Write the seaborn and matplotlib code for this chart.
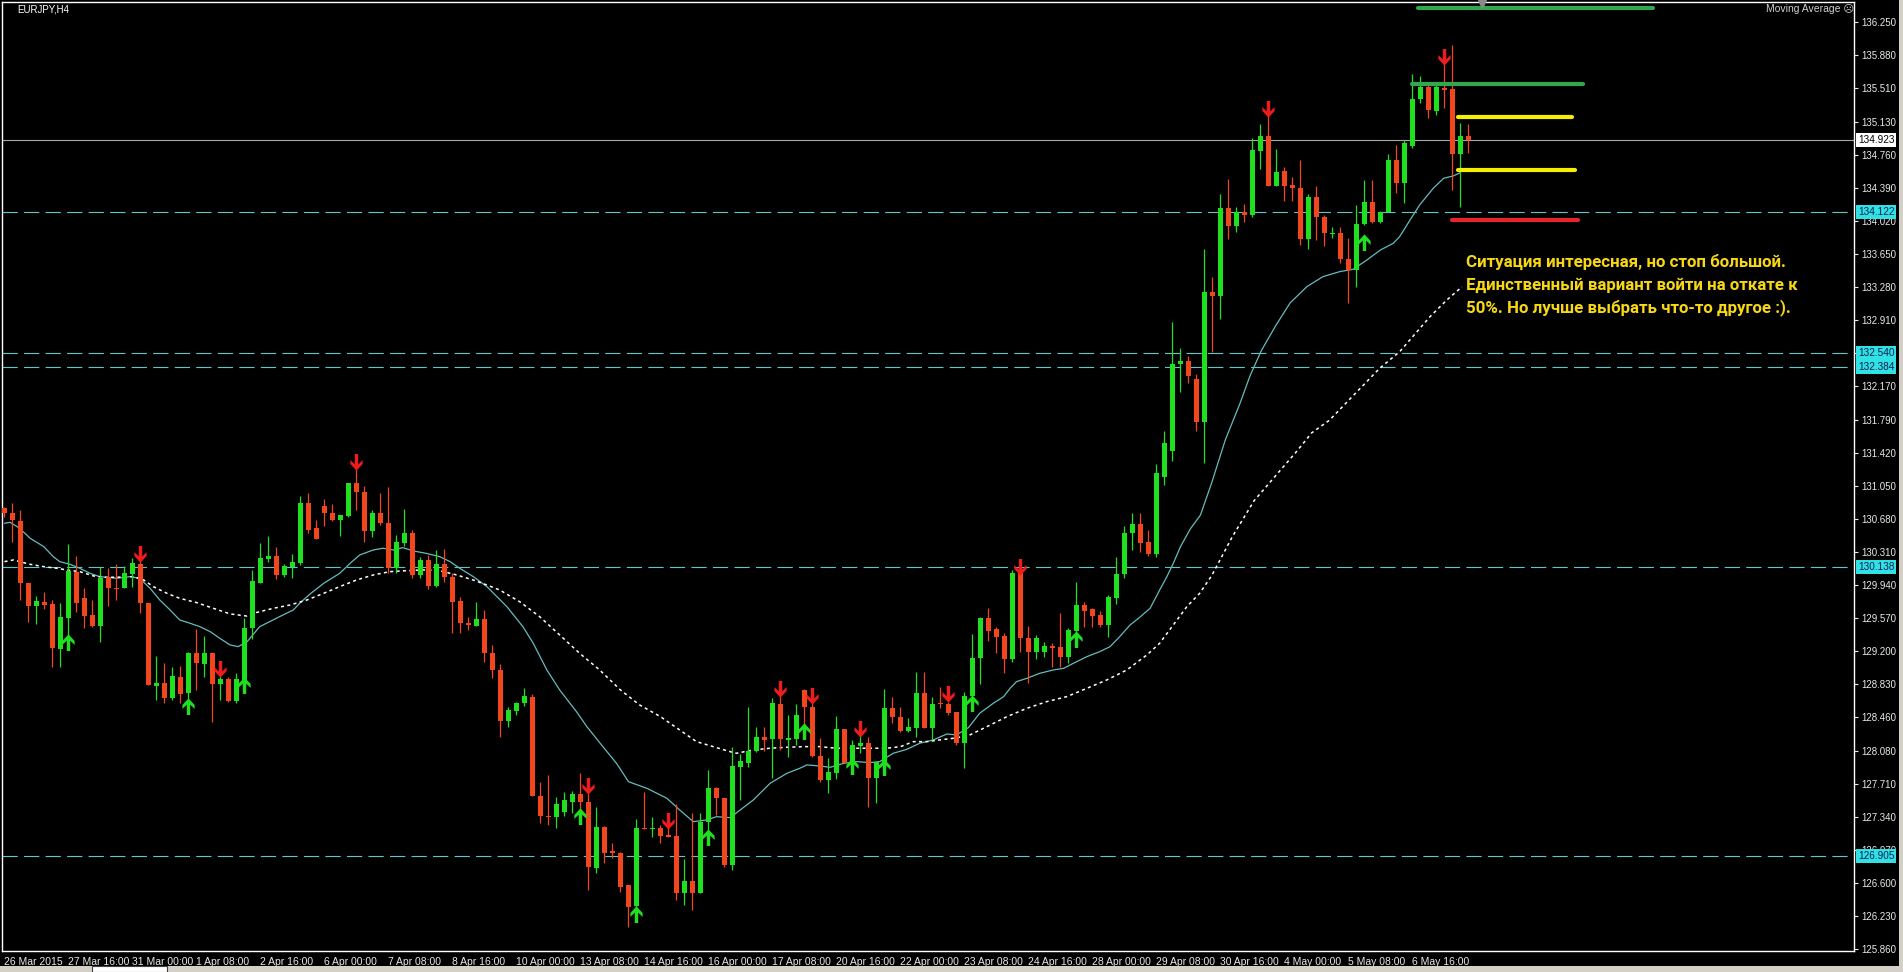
import numpy as np
import pandas as pd
import matplotlib
matplotlib.use("Agg")
import matplotlib.pyplot as plt
import seaborn as sns
from matplotlib.path import Path
from matplotlib.patches import Rectangle

# ---------------- data (EURJPY, H4) ----------------
opens = [130.798,130.750,130.656,129.957,129.707,129.744,129.726,129.221,129.573,130.088,
         129.789,129.602,129.483,130.025,129.909,129.901,130.062,130.170,129.733,128.810,
         128.836,128.668,128.904,128.724,129.173,129.053,129.173,128.825,128.885,128.642,
         128.845,129.453,129.965,130.226,130.264,130.051,130.144,130.181,130.854,130.574,
         130.824,130.742,130.667,130.712,131.086,130.985,130.548,130.749,130.637,130.133,
         130.406,130.518,130.051,130.219,129.927,130.174,130.032,129.759,129.516,129.483,
         129.553,129.180,128.985,128.417,128.529,128.611,128.679,127.573,127.352,127.341,
         127.397,127.509,127.595,127.509,126.762,127.229,126.956,126.937,126.575,126.339,
         127.210,127.199,127.210,127.135,127.124,126.489,126.620,126.489,127.285,127.659,
         127.547,126.800,127.902,127.947,128.078,128.231,128.212,128.604,128.201,128.212,
         128.761,128.575,128.025,127.752,127.835,128.321,127.939,128.134,128.171,127.771,
         127.947,128.556,128.455,128.302,128.332,128.732,128.332,128.619,128.604,128.518,
         128.164,128.694,129.116,129.565,129.442,129.367,129.105,130.088,129.341,129.191,
         129.184,129.255,129.247,129.128,129.427,129.714,129.666,129.602,129.490,129.789,
         130.062,130.520,130.620,130.420,130.290,131.149,131.435,132.420,132.445,132.245,
         131.764,133.226,133.174,134.167,133.966,134.115,134.087,134.807,134.975,134.407,
         134.575,134.427,134.387,133.814,134.287,134.068,133.874,133.889,133.590,133.470,
         133.986,134.229,134.012,134.117,134.703,134.441,134.864,135.387,135.518,135.253,
         135.507,135.496,134.770,134.972]
highs = [130.817,130.854,130.780,129.957,129.815,129.856,129.770,129.733,130.398,130.264,
         129.901,129.771,130.144,130.126,130.174,130.152,130.238,130.219,129.733,129.143,
         129.061,129.023,129.031,129.191,129.442,129.367,129.173,128.948,128.911,128.948,
         129.565,130.107,130.406,130.488,130.368,130.170,130.282,130.936,130.966,130.667,
         130.899,130.847,130.723,131.086,131.246,131.048,130.779,130.974,131.041,130.499,
         130.787,130.555,130.256,130.275,130.331,130.338,130.069,129.808,129.583,129.752,
         129.658,129.266,129.053,128.574,128.630,128.780,128.716,127.734,127.808,127.565,
         127.621,127.632,127.827,127.603,127.446,127.237,127.042,126.948,126.575,127.311,
         127.621,127.341,127.247,127.229,127.483,126.863,127.378,127.378,127.864,127.677,
         127.547,128.119,128.040,128.575,128.350,128.343,128.668,128.705,128.481,128.601,
         128.769,128.668,128.220,127.995,128.470,128.321,128.201,128.294,128.231,127.958,
         128.769,128.679,128.575,128.444,128.959,128.959,128.679,128.799,128.630,128.518,
         128.743,129.389,129.584,129.677,129.464,129.397,130.107,130.181,129.479,129.378,
         129.303,129.292,129.628,129.453,129.976,129.752,129.677,129.651,129.826,130.256,
         130.600,130.750,130.750,130.550,131.300,131.666,132.891,132.600,132.500,132.305,
         133.706,133.386,134.327,134.495,134.175,134.215,134.947,135.108,135.268,134.827,
         134.627,134.507,134.707,134.327,134.407,134.087,133.956,133.956,133.825,134.199,
         134.479,134.479,134.135,134.770,134.871,134.928,135.667,135.645,135.540,135.581,
         135.806,135.992,135.114,135.107]
lows = [130.705,130.425,129.771,129.528,129.498,129.666,129.023,129.023,129.322,129.640,
        129.453,129.472,129.304,129.703,129.771,129.901,129.913,129.621,128.818,128.650,
        128.612,128.650,128.612,128.650,128.761,128.911,128.407,128.650,128.631,128.612,
        128.800,129.329,129.965,130.200,130.002,130.032,130.021,130.163,130.518,130.450,
        130.600,130.660,130.488,130.705,130.779,130.424,130.480,130.611,130.077,130.077,
        130.376,130.013,130.013,129.890,129.920,129.976,129.396,129.404,129.434,129.479,
        129.079,128.899,128.238,128.350,128.481,128.582,127.573,127.274,127.248,127.210,
        127.349,127.378,127.416,126.519,126.713,126.818,126.874,126.500,126.108,126.332,
        127.199,127.109,127.050,127.117,126.407,126.351,126.295,126.489,127.173,127.360,
        126.780,126.744,127.528,127.902,128.070,128.078,127.771,128.089,128.014,128.145,
        128.369,128.014,127.734,127.603,127.760,127.939,127.865,128.052,127.453,127.491,
        127.902,128.388,128.294,128.294,128.238,128.332,128.201,128.556,128.481,128.145,
        127.883,128.687,128.829,129.314,129.172,128.948,129.079,129.191,128.836,129.105,
        129.135,129.023,129.023,129.068,129.266,129.471,129.464,129.464,129.359,129.726,
        130.020,130.330,130.310,130.260,130.250,131.054,131.330,132.100,132.200,131.664,
        131.304,132.545,132.925,133.814,133.894,134.007,134.067,134.599,134.407,134.407,
        134.239,134.247,133.746,133.706,133.806,133.739,133.825,133.552,133.096,133.283,
        133.975,134.001,134.001,134.117,134.329,134.217,134.834,135.339,135.170,135.208,
        135.282,134.367,134.180,134.785]
closes = [130.742,130.667,129.957,129.707,129.759,129.718,129.229,129.584,130.096,129.733,
          129.595,129.483,130.013,129.901,129.894,130.077,130.182,129.733,128.818,128.836,
          128.676,128.919,128.717,129.180,129.061,129.180,128.825,128.885,128.642,128.885,
          129.453,129.983,130.245,130.264,130.051,130.155,130.192,130.861,130.555,130.450,
          130.742,130.667,130.723,131.086,130.985,130.548,130.749,130.637,130.133,130.424,
          130.518,130.051,130.219,129.927,130.174,130.032,129.752,129.509,129.486,129.557,
          129.180,128.985,128.417,128.537,128.619,128.694,127.573,127.349,127.334,127.483,
          127.528,127.595,127.509,126.780,127.229,126.937,126.930,126.556,126.332,127.210,
          127.199,127.210,127.124,127.117,126.489,126.620,126.489,127.285,127.659,127.547,
          126.800,127.909,127.965,128.078,128.238,128.201,128.612,128.208,128.227,128.481,
          128.567,128.025,127.752,127.838,128.321,127.939,128.145,128.164,127.771,127.958,
          128.556,128.455,128.306,128.350,128.732,128.332,128.604,128.604,128.507,128.164,
          128.694,129.124,129.565,129.427,129.359,129.105,130.069,129.341,129.191,129.341,
          129.258,129.236,129.128,129.434,129.714,129.651,129.591,129.490,129.800,130.062,
          130.520,130.620,130.410,130.290,131.190,131.530,132.420,132.450,132.285,131.764,
          133.226,133.174,134.167,133.966,134.115,134.087,134.815,134.975,134.407,134.567,
          134.407,134.387,133.814,134.287,134.068,133.881,133.889,133.590,133.470,133.986,
          134.229,134.012,134.117,134.703,134.441,134.890,135.387,135.518,135.264,135.518,
          135.488,134.770,134.972,134.923]

# moving averages read at points along the curves (bar index, price)
ma_fast_idx = [0,0.7,1.9,3.2,4.9,6.1,6.9,8.2,9.4,10.7,11.9,14,15.7,16.9,18.2,19.4,20.7,21.9,23.2,24.4,
               25.7,26.9,28.2,29.2,30.3,31.9,34.4,36.1,36.9,38.2,39.9,41.9,43.2,44.4,46.1,47.3,48.6,49.8,
               51.1,52.7,54.4,55.7,56.9,58.6,60.3,62.8,64.8,66.1,67.8,69.4,71.5,72.8,74.8,76.5,78,80.3,
               82.8,84.4,86.1,87.8,89,90.7,93.6,95.7,97.8,99.4,100.3,101.9,103.2,104.9,106.5,108.2,109.4,
               111.1,112.8,114.4,116.1,117.8,119,120.5,121.9,123.6,124.9,125.7,126.5,127.8,129.4,131.1,
               132.4,133.6,135.3,136.9,138.2,139.4,140.7,142,143.2,144.4,145.3,146.1,147,148.2,149.5,
               150.9,152.6,154.4,155.7,157.1,158.9,160.7,162.8,164.8,166.9,168.6,170.3,172,173.6,174.4,
               175.7,176.9,178.6,179.9,181.1,182]
ma_fast_val = [130.630,130.641,130.574,130.462,130.369,130.256,130.200,130.170,130.126,130.069,130.032,
               130.013,130.032,130.013,129.901,129.771,129.658,129.546,129.509,129.472,129.416,129.341,
               129.266,129.247,129.300,129.471,129.584,129.658,129.733,129.838,129.957,130.069,130.181,
               130.275,130.331,130.350,130.331,130.357,130.320,130.293,130.256,130.200,130.126,130.032,
               129.920,129.695,129.471,129.284,128.985,128.761,128.518,128.350,128.126,127.939,127.733,
               127.659,127.547,127.416,127.285,127.304,127.341,127.330,127.528,127.715,127.827,127.883,
               127.921,127.909,127.894,127.939,127.958,127.947,127.958,128.052,128.096,128.164,128.201,
               128.268,128.257,128.340,128.500,128.612,128.687,128.780,128.855,128.892,128.948,128.986,
               129.004,129.060,129.135,129.191,129.247,129.359,129.490,129.583,129.677,129.882,130.032,
               130.181,130.368,130.563,130.723,131.084,131.564,131.965,132.285,132.565,132.845,133.100,
               133.283,133.395,133.451,133.478,133.582,133.694,133.769,133.844,134.031,134.199,134.386,
               134.498,134.524,134.561]
ma_slow_idx = [0,1.1,3.2,4.9,6.5,7.8,9.4,11.1,12.4,14,16.1,17.4,18.6,20.3,21.9,24,26.1,28.2,30.3,
               31.1,33.6,35.7,37.8,39.9,41.9,44,46.1,48.2,50.3,52.4,54.4,56.5,58.6,60.3,61.9,64.4,66.9,
               69.4,71.9,74.4,77,79.4,82,84.4,86.5,88.6,90.7,91.5,93.6,95.7,97.8,99.9,101.9,104,106.1,
               108.2,110.3,112,113.6,115.3,116.9,118.6,120.5,122.8,125.3,127.8,130.3,132.8,135.3,137.8,
               140.3,142.8,144.4,146.1,147.8,149.4,150.9,153.5,156.2,158.9,161.6,163.4,165.6,171.9,
               174.4,178.2,180.3,182.2]
ma_slow_val = [130.200,130.219,130.170,130.144,130.126,130.107,130.088,130.040,130.025,130.025,130.032,
               129.995,129.920,129.845,129.789,129.741,129.677,129.614,129.590,129.621,129.677,129.714,
               129.770,129.845,129.920,129.994,130.051,130.088,130.099,130.107,130.099,130.051,129.994,
               129.938,129.882,129.751,129.583,129.378,129.172,128.985,128.761,128.593,128.462,128.313,
               128.182,128.126,128.070,128.052,128.089,128.108,128.119,128.126,128.126,128.108,128.108,
               128.108,128.108,128.126,128.182,128.182,128.201,128.220,128.250,128.350,128.462,128.556,
               128.631,128.687,128.780,128.874,128.986,129.154,129.285,129.490,129.696,129.845,130.043,
               130.483,130.883,131.164,131.444,131.644,131.784,132.368,132.554,132.947,133.134,133.282]

arrow_down_idx = [17,27,44,73,83,97,101,107,118,127,158,180]
arrow_down_price = [130.286,129.001,131.321,127.689,127.296,128.773,128.698,128.324,128.717,130.137,135.280,135.862]
arrow_up_idx = [8,23,30,72,79,88,100,106,110,121,134,170]
arrow_up_price = [129.296,128.586,128.818,127.352,126.250,127.109,128.306,127.913,127.902,128.612,129.333,133.780]

level_prices = [134.122, 132.540, 132.384, 130.138, 126.905]
current_price = 134.923

seg_price = [136.404, 135.552, 135.182, 134.587, 134.027]
seg_start = [176.7, 176.0, 181.7, 181.7, 180.9]
seg_end = [206.1, 197.3, 195.9, 196.3, 196.7]
seg_color = ["#2fa84f", "#2fa84f", "#f5ee00", "#f5ee00", "#e5242c"]

y_ticks = [136.250,135.880,135.510,135.130,134.760,134.390,134.020,133.650,133.280,132.910,132.540,
           132.170,131.790,131.420,131.050,130.680,130.310,129.940,129.570,129.200,128.830,128.460,
           128.080,127.710,127.340,126.970,126.600,126.230,125.860]
date_labels = ["26 Mar 2015","27 Mar 16:00","31 Mar 00:00","1 Apr 08:00","2 Apr 16:00","6 Apr 00:00",
               "7 Apr 08:00","8 Apr 16:00","10 Apr 00:00","13 Apr 08:00","14 Apr 16:00","16 Apr 00:00",
               "17 Apr 08:00","20 Apr 16:00","22 Apr 00:00","23 Apr 08:00","24 Apr 16:00","28 Apr 00:00",
               "29 Apr 08:00","30 Apr 16:00","4 May 00:00","5 May 08:00","6 May 16:00"]
note_lines = ["Ситуация интересная, но стоп большой.",
              "Единственный вариант войти на откате к",
              "50%. Но лучше выбрать что-то другое :)."]

# ---------------- styling ----------------
sns.set_theme(style="dark", rc={"axes.facecolor": "black", "figure.facecolor": "black",
                                "axes.grid": False, "lines.scale_dashes": False})
plt.rcParams['font.family'] = ['Liberation Sans', 'DejaVu Sans']

PX, PY = 1903, 972
fig = plt.figure(figsize=(PX / 100, PY / 100), dpi=100, facecolor="black")
ax = fig.add_axes([2 / PX, 1 - 951 / PY, 1852 / PX, 949 / PY])
ax.set_facecolor("black")

df = pd.DataFrame({"o": opens, "h": highs, "l": lows, "c": closes})
df["i"] = np.arange(len(df))
bull = df["c"] >= df["o"]
GREEN, RED = "#1fe01f", "#f2461e"
cols = np.where(bull, GREEN, RED)

# level lines
for lp in level_prices:
    ax.axhline(lp, color="#5cc8c8", lw=0.8, dashes=(11, 4.5), zorder=1)
ax.axhline(current_price, color="#a8a8a8", lw=0.8, zorder=1)

# moving averages via seaborn
sns.lineplot(x=ma_fast_idx, y=ma_fast_val, ax=ax, color="#66bcbc", lw=0.9, zorder=2, sort=False)
sns.lineplot(x=ma_slow_idx, y=ma_slow_val, ax=ax, color="white", lw=1.1, zorder=2, sort=False,
             linestyle=(0, (2.2, 2.4)))

# candles
ax.vlines(df["i"], df["l"], df["h"], colors=cols, lw=0.9, zorder=3)
body_h = np.maximum((df["c"] - df["o"]).abs(), 0.012)
body_b = np.minimum(df["c"], df["o"])
ax.bar(df["i"], body_h, bottom=body_b, width=0.62, color=cols, linewidth=0, zorder=4)

# arrows (MT4 style thick arrows)
down_path = Path([(-0.2, 1.0), (0.2, 1.0), (0.2, -0.22), (0.72, 0.28), (0.72, -0.18),
                  (0.0, -0.95), (-0.72, -0.18), (-0.72, 0.28), (-0.2, -0.22), (-0.2, 1.0)],
                 [Path.MOVETO] + [Path.LINETO] * 8 + [Path.CLOSEPOLY])
up_path = Path(down_path.vertices * np.array([1, -1]), down_path.codes)
ax.scatter(arrow_down_idx, arrow_down_price, marker=down_path, s=150, color="#ee1c1c", zorder=5, linewidths=0)
ax.scatter(arrow_up_idx, arrow_up_price, marker=up_path, s=150, color="#1fe01f", zorder=5, linewidths=0)

# drawn trade lines
for p, a, b, c in zip(seg_price, seg_start, seg_end, seg_color):
    ax.plot([a, b], [p, p], color=c, lw=3.0, solid_capstyle="round", zorder=6, clip_on=False)

# chart shift marker
ax.scatter([184.7], [136.45], marker="v", s=30, color="#8a8a8a", zorder=7, clip_on=False)

# axes limits and ticks
ax.set_xlim(-0.3125, 231.19)
ax.set_ylim(125.835, 136.474)
ax.yaxis.tick_right()
ax.set_yticks(y_ticks)
# the 132.540 tick label is covered by the level box showing the same value
ax.set_yticklabels(["" if abs(v - 132.540) < 1e-6 else f"{v:.3f}" for v in y_ticks])
ax.tick_params(axis="y", colors="#e8e8e8", labelsize=7, length=3, width=0.8, pad=2, direction="out",
               left=False, right=True)
ax.set_xticks(np.arange(len(date_labels)) * 8)
ax.set_xticklabels(date_labels)
ax.tick_params(axis="x", colors="#e8e8e8", labelsize=7.5, length=3, width=0.8, pad=1, direction="out")
for t in ax.get_xticklabels():
    t.set_horizontalalignment("left")
for s in ax.spines.values():
    s.set_color("white")
    s.set_linewidth(1.0)
ax.set_xlabel("")
ax.set_ylabel("")

# level price boxes on the axis
for lp in level_prices:
    ax.annotate(f"{lp:.3f}", xy=(1, lp), xycoords=("axes fraction", "data"), xytext=(4, 0),
                textcoords="offset pixels", va="center", ha="left", fontsize=7.2, color="#0a1f5c",
                bbox=dict(boxstyle="square,pad=0.2", fc="#30e2e2", ec="none"), zorder=10,
                annotation_clip=False)
ax.annotate(f"{current_price:.3f}", xy=(1, current_price), xycoords=("axes fraction", "data"), xytext=(4, 0),
            textcoords="offset pixels", va="center", ha="left", fontsize=7.2, color="black",
            bbox=dict(boxstyle="square,pad=0.2", fc="white", ec="none"), zorder=10,
            annotation_clip=False)

# texts
fig.text(17 / PX, 1 - 9 / PY, "EURJPY,H4", color="white", fontsize=7, va="center", ha="left")
fig.text(1766 / PX, 1 - 9 / PY, "Moving Average ☹", color="#d0d0d0", fontsize=7.5, va="center", ha="left",
         family=["Liberation Sans", "DejaVu Sans"])
for k, (line, yy) in enumerate(zip(note_lines, [261.5, 285, 307.5])):
    fig.text(1466 / PX, 1 - yy / PY, line, color="#f7d813", fontsize=12.2, fontweight="bold",
             va="center", ha="left", family=["Roboto", "DejaVu Sans"])

# window frame bits (bottom tab strip, right border)
fig.patches.append(Rectangle((0, 0), 1, 6 / PY, transform=fig.transFigure, fc="#d4d0c8", ec="none"))
fig.patches.append(Rectangle((92 / PX, 0), 75 / PX, 6 / PY, transform=fig.transFigure, fc="white",
                             ec="#404040", lw=0.8))
fig.patches.append(Rectangle(((PX - 4) / PX, 0), 4 / PX, 1, transform=fig.transFigure, fc="#d4d0c8", ec="none"))

fig.savefig("out.png", dpi=100, facecolor="black")
